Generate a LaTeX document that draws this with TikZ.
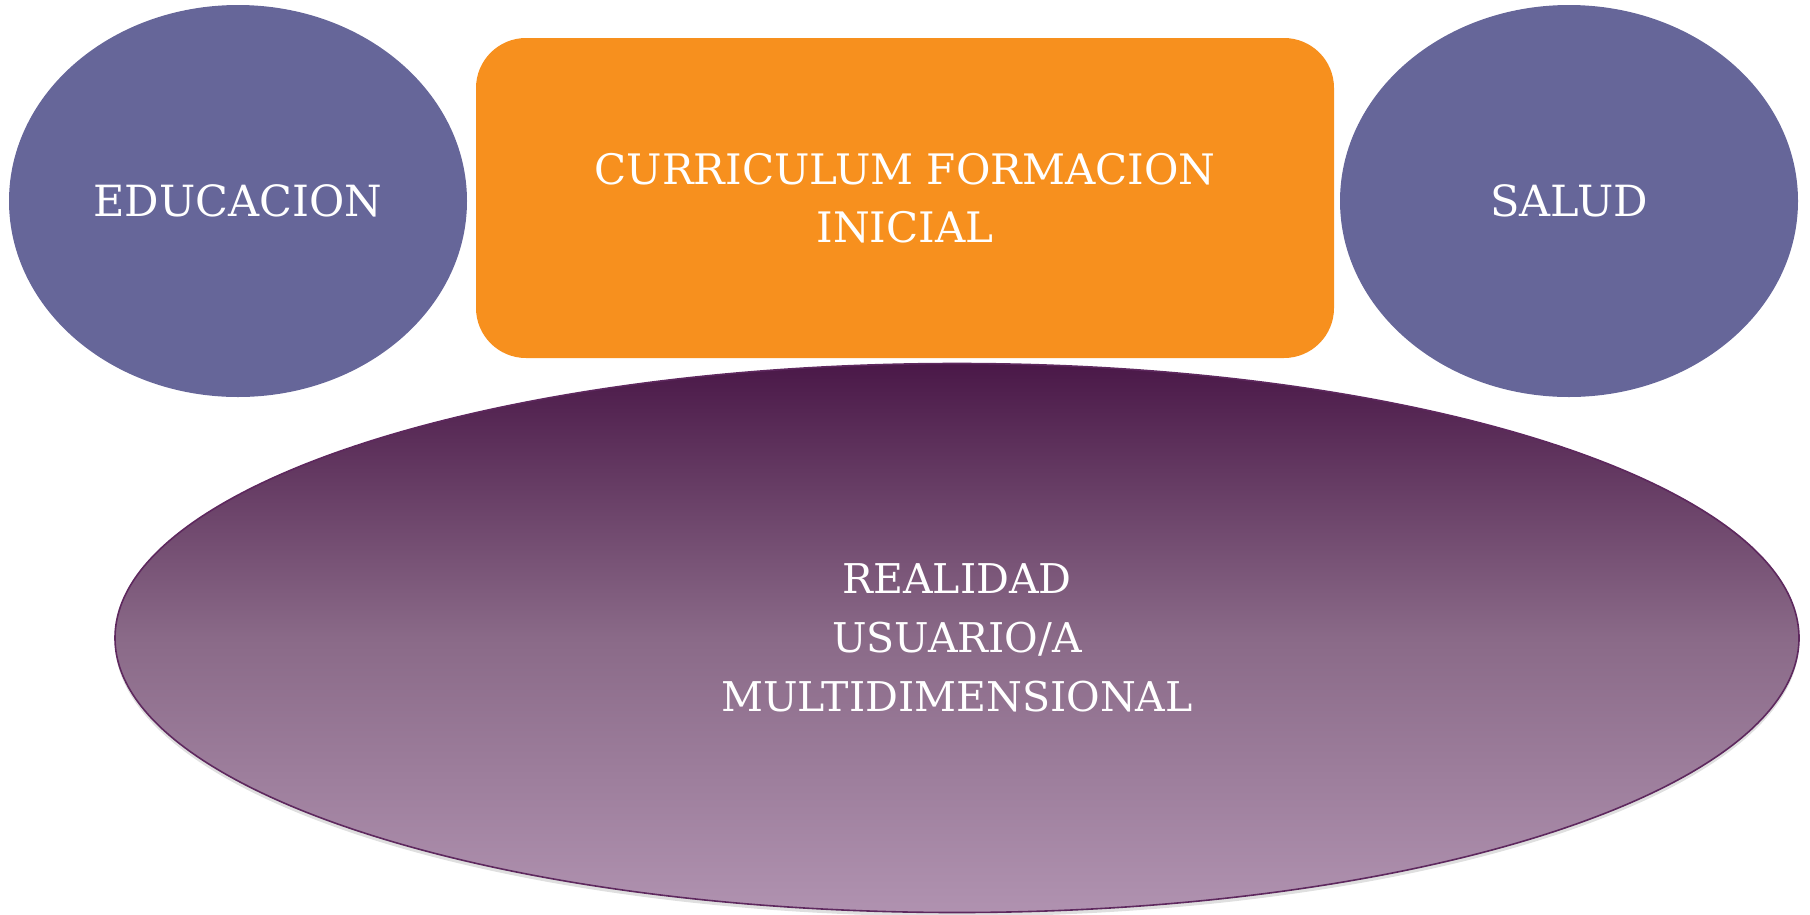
\documentclass[tikz,border=0pt]{standalone}
\usepackage{fontspec}
\setmainfont{DejaVu Serif}
\usetikzlibrary{shapes.geometric,shadows}

\definecolor{lila}{RGB}{102,102,153}
\definecolor{naranja}{RGB}{247,144,30}
\definecolor{ciruela}{RGB}{94,40,94}

\begin{document}
\begin{tikzpicture}[x=1pt,y=-1pt,
  campo/.style={ellipse,fill=lila,text=white,minimum width=458pt,minimum height=392pt,
    inner sep=0pt,font=\fontsize{43}{58}\selectfont},
  curriculo/.style={rectangle,rounded corners=50pt,fill=naranja,text=white,align=center,
    minimum width=858pt,minimum height=320pt,inner sep=0pt,font=\fontsize{42}{58}\selectfont},
  realidad/.style={ellipse,draw=ciruela,line width=1.6pt,text=white,align=center,
    minimum width=1684pt,minimum height=549pt,inner sep=0pt,
    top color={rgb,255:red,74;green,24;blue,72},bottom color={rgb,255:red,176;green,146;blue,176},
    middle color={rgb,255:red,138;green,106;blue,136},
    drop shadow={shadow xshift=0pt,shadow yshift=-4pt,opacity=.25},
    font=\fontsize{41}{59}\selectfont}]
  \useasboundingbox (0,0) rectangle (1810,914);
  \node[campo] (educacion) at (238,201) {EDUCACION};
  \node[campo] (salud) at (1569,201) {SALUD};
  \node[curriculo] (curriculum) at (905,198) {CURRICULUM FORMACION\\INICIAL};
  \node[realidad] (realidad) at (957,638) {REALIDAD\\USUARIO/A\\MULTIDIMENSIONAL};
\end{tikzpicture}
\end{document}
